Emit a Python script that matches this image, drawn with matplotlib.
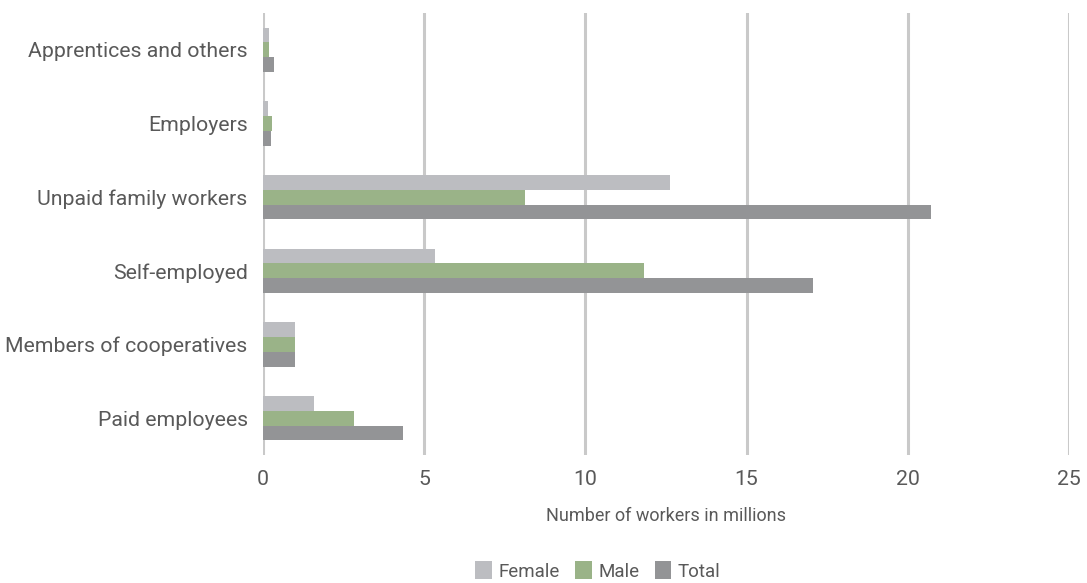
import matplotlib
matplotlib.use("Agg")
import matplotlib.pyplot as plt
import numpy as np

categories = ["Apprentices and others", "Employers", "Unpaid family workers",
              "Self-employed", "Members of cooperatives", "Paid employees"]
female = [0.20, 0.15, 12.62, 5.33, 0.99, 1.58]
male = [0.20, 0.27, 8.13, 11.82, 0.99, 2.82]
total = [0.33, 0.24, 20.72, 17.06, 0.99, 4.34]
xticks = [0, 5, 10, 15, 20, 25]

colors = {"Female": "#BCBDC1", "Male": "#9AB388", "Total": "#939496"}
text_color = "#595959"

plt.rcParams["font.family"] = ["Roboto", "DejaVu Sans"]

fig = plt.figure(figsize=(10.87, 5.83), dpi=100)
ax = fig.add_axes([263 / 1087, 1 - 455 / 583, (1069 - 263) / 1087, (455 - 13) / 583])

y = np.arange(len(categories))
h = 0.2
ax.barh(y - h, female, height=h, color=colors["Female"], label="Female", zorder=3)
ax.barh(y, male, height=h, color=colors["Male"], label="Male", zorder=3)
ax.barh(y + h, total, height=h, color=colors["Total"], label="Total", zorder=3)

ax.set_ylim(len(categories) - 0.5, -0.5)
ax.set_xlim(0, 25)
ax.set_xticks(xticks)
ax.set_xticklabels([str(t) for t in xticks])
ax.set_yticks(y)
ax.set_yticklabels(categories)

ax.grid(axis="x", color="#C9C9C9", linewidth=2.2, zorder=0)
for s in ax.spines.values():
    s.set_visible(False)
ax.tick_params(axis="both", length=0, labelsize=15.3, colors=text_color)
ax.tick_params(axis="x", pad=11)
ax.tick_params(axis="y", pad=11)

ax.set_xlabel("Number of workers in millions", fontsize=13, color=text_color, labelpad=13)

handles, labels = ax.get_legend_handles_labels()
fig.legend(handles, labels, loc="center", bbox_to_anchor=(598 / 1087, 1 - 571 / 583),
           ncol=3, frameon=False, fontsize=13.5, labelcolor=text_color,
           handlelength=0.9, handleheight=1.1, handletextpad=0.35, columnspacing=0.8)

fig.savefig("out.png", dpi=100)
